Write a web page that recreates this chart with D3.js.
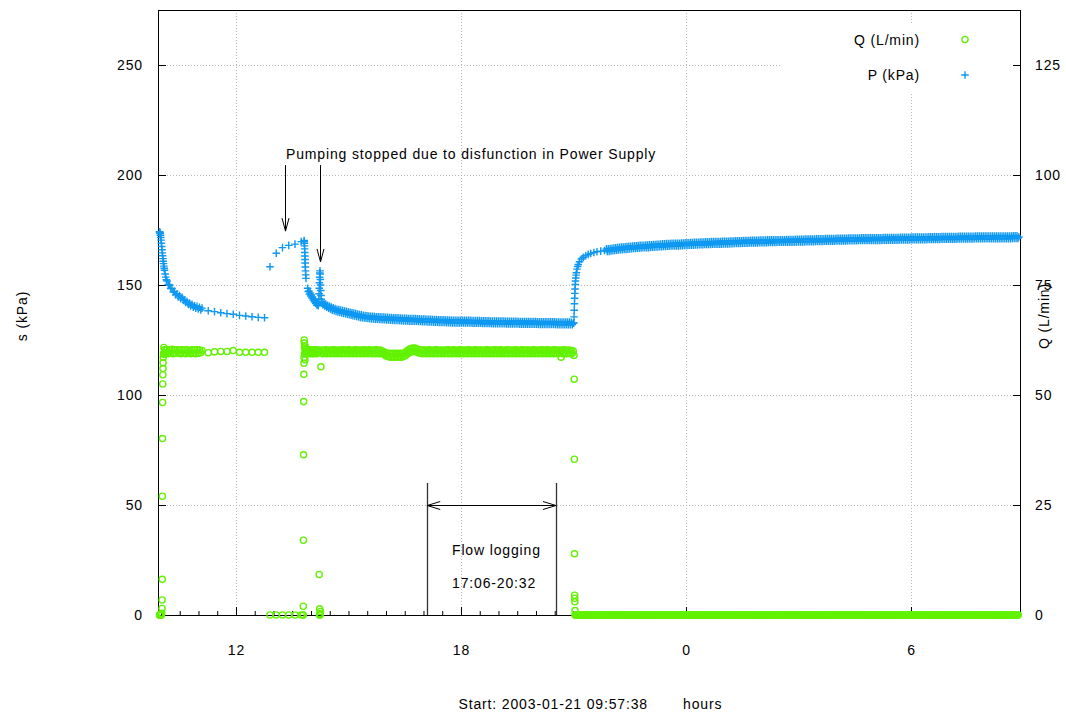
<!DOCTYPE html>
<html>
<head>
<meta charset="utf-8">
<script src="https://cdn.jsdelivr.net/npm/d3@7"></script>
<style>
  body { margin: 0; background: #fff; }
  text { font-family: "Liberation Sans", Arial, Helvetica, sans-serif; font-size: 14px; letter-spacing: 0.85px; fill: #000; }
</style>
</head>
<body>
<svg id="chart" width="1066" height="717"></svg>
<script>
// ---- Test record: pressure P (kPa) and flow Q (L/min), time in minutes since start ----
const startText = "Start: 2003-01-21 09:57:38";
const startClock = 9 + 57 / 60 + 38 / 3600;   // clock hours of the first record

// x axis: clock hours (values above 24 are the next day)
const xMajorHours = [12, 18, 24, 30];
const xMajorLabels = ["12", "18", "0", "6"];
const leftTicks = [0, 50, 100, 150, 200, 250];
const rightTicks = [0, 25, 50, 75, 100, 125];

// P, pump start (irregular logging)
const pEarlyMin = [0,0.3,0.6,1,1.5,2,2.5,3,3.5,4,4.5,5,5.5,6,6.5,7,7.5,8,9,10,11];
const pEarly = [174.2,173.8,174.0,173.4,172.6,171.6,170.4,169.0,167.5,166.0,164.6,163.3,162.0,160.8,159.7,158.6,157.6,156.7,155.0,153.6,152.4];
// P, pumping, every 2 min from minute 12
const pPump = [151.8,150.2,150.0,148.4,148.4,146.8,147.1,145.5,146.0,144.6,145.2,143.8,144.4,143.0,143.2,142.1,142.5,141.2,141.8,140.5,141.2,139.9,140.6,139.5,140.3,139.1,139.9,138.7,139.5];
// P, every 10 min from minute 78
const pSparse = [138.3,137.9,137.4,137.0,136.7,136.2,135.9,135.6,135.3,135.1];
// P, pump stopped, every 10 min from minute 176.8
const pRecover = [158.3,164.4,167.0,168.0,168.6,169.7];
// P, restart and second short stop (irregular)
const pRestartMin = [231.4,231.6,231.8,232.0,232.2,232.4,232.6,232.8,233.0,233.3,233.6,234.0,234.4,
  237,238,239,240,241,242,243,244,245,246,247,248,249,250,251,252,253,
  254,254.5,255,255.3,255.6,255.9,256.2,256.5,256.8,257.1,257.4,257.7,258,258.4,258.8,259.3];
const pRestart = [170.2,169.8,169.0,167.8,166.4,164.8,163.2,161.6,160.0,158.2,156.4,154.6,153.0,
  148.5,147.0,147.3,145.9,146.4,145.0,145.5,144.1,144.6,143.2,143.7,142.4,142.9,141.6,142.1,140.8,141.3,
  140.6,141.5,143.5,146.0,148.5,151.0,153.5,155.5,156.4,155.0,152.5,150.0,147.5,145.2,143.5,142.2];
// P, pumping, every 1.5 min from minute 260
const pMid = [
  142.4,140.9,141.8,140.4,141.3,139.9,140.8,139.4,140.4,139.0,
  140.0,138.6,139.6,138.3,139.3,138.0,139.0,137.7,138.8,137.5,
  138.6,137.3,138.4,137.1,138.2,136.9,138.0,136.7,137.8,136.5,
  137.6,136.3,137.4,136.1,137.2,135.9,137.0,135.7,136.8,135.5,
  136.6,135.3,136.4,135.1,136.2,135.0,136.1,134.9,136.0,134.8,
  135.9,134.7,135.8,134.6,135.8,134.6,135.7,134.5,135.6,134.4,
  135.5,134.3,135.5,134.3,135.4,134.2,135.4,134.2,135.3,134.1,
  135.3,134.1,135.2,134.0,135.2,134.0,135.1,133.9,135.1,133.9,
  135.1,133.9,135.0,133.8,135.0,133.8,134.9,133.7,134.9,133.7,
  134.9,133.7,134.8,133.6,134.8,133.6,134.7,133.5,134.7,133.5,
  134.7,133.5,134.6,133.4,134.6,133.4,134.5,133.3,134.5,133.3,
  134.5,133.3,134.4,133.2,134.4,133.2,134.4,133.2,134.3,133.1,
  134.3,133.1,134.3,133.1,134.2,133.0,134.2,133.0,134.2,133.0,
  134.2,133.0,134.1,132.9,134.1,132.9,134.1,132.9,134.0,132.8,
  134.0,132.8,134.0,132.8,134.0,132.8,134.0,132.8,133.9,132.7,
  133.9,132.7,133.9,132.7,133.9,132.7,133.9,132.7,133.9,132.7,
  133.8,132.6,133.8,132.6,133.8,132.6,133.8,132.6,133.8,132.6,
  133.7,132.5,133.7,132.5,133.7,132.5,133.7,132.5,133.7,132.5,
  133.6,132.4,133.6,132.4,133.6,132.4,133.6,132.4,133.6,132.4,
  133.6,132.4,133.6,132.4,133.6,132.4,133.5,132.3,133.5,132.3,
  133.5,132.3,133.5,132.3,133.5,132.3,133.5,132.3,133.5,132.3,
  133.4,132.2,133.4,132.2,133.4,132.2,133.4,132.2,133.4,132.2,
  133.4,132.2,133.4,132.2,133.4,132.2,133.4,132.2,133.4,132.2,
  133.3,132.1,133.3,132.1,133.3,132.1,133.3,132.1,133.3,132.1,
  133.3,132.1,133.3,132.1,133.3,132.1,133.3,132.1,133.3,132.1,
  133.2,132.0,133.2,132.0,133.2,132.0,133.2,132.0,133.2,132.0,
  133.2,132.0,133.2,132.0,133.2,132.0,133.1,132.0,132.6];
// P, pump stopped for good (irregular)
const pStopMin = [663.0,663.3,663.6,663.9,664.2,664.5,664.8,665.2,665.6,666.0,666.5,667.0,668,669,670,672,675,678,682,686,690,695,700,706,712];
const pStop = [132.8,135.5,138.5,141.5,144.0,146.2,148.2,150.2,151.8,153.2,154.5,155.6,157.2,158.4,159.3,160.6,161.8,162.6,163.3,163.9,164.3,164.8,165.1,165.4,165.7];
// P, recovery, every 1.5 min from minute 715
const pLate = [
  166.4,165.2,166.5,165.3,166.6,165.5,166.7,165.6,166.8,165.7,
  166.9,165.8,167.0,165.9,167.1,166.0,167.2,166.1,167.3,166.2,
  167.4,166.2,167.5,166.3,167.6,166.4,167.6,166.5,167.7,166.6,
  167.8,166.6,167.8,166.7,167.9,166.7,168.0,166.8,168.0,166.9,
  168.1,166.9,168.2,167.0,168.2,167.0,168.3,167.1,168.3,167.2,
  168.4,167.2,168.4,167.3,168.5,167.3,168.5,167.4,168.6,167.4,
  168.7,167.5,168.7,167.5,168.8,167.6,168.8,167.6,168.8,167.7,
  168.9,167.7,168.9,167.7,169.0,167.8,169.0,167.8,169.0,167.9,
  169.1,167.9,169.1,168.0,169.2,168.0,169.2,168.0,169.2,168.1,
  169.3,168.1,169.3,168.1,169.4,168.2,169.4,168.2,169.4,168.3,
  169.5,168.3,169.5,168.3,169.5,168.4,169.6,168.4,169.6,168.4,
  169.6,168.4,169.7,168.5,169.7,168.5,169.7,168.5,169.8,168.6,
  169.8,168.6,169.8,168.6,169.9,168.7,169.9,168.7,169.9,168.7,
  169.9,168.7,170.0,168.8,170.0,168.8,170.0,168.9,170.1,168.9,
  170.1,168.9,170.1,168.9,170.1,169.0,170.2,169.0,170.2,169.0,
  170.2,169.0,170.2,169.1,170.3,169.1,170.3,169.1,170.3,169.1,
  170.3,169.1,170.3,169.2,170.4,169.2,170.4,169.2,170.4,169.2,
  170.4,169.2,170.5,169.3,170.5,169.3,170.5,169.3,170.5,169.3,
  170.5,169.3,170.6,169.4,170.6,169.4,170.6,169.4,170.6,169.4,
  170.6,169.4,170.7,169.5,170.7,169.5,170.7,169.5,170.7,169.5,
  170.7,169.5,170.8,169.6,170.8,169.6,170.8,169.6,170.8,169.6,
  170.8,169.6,170.9,169.7,170.9,169.7,170.9,169.7,170.9,169.7,
  170.9,169.7,170.9,169.8,171.0,169.8,171.0,169.8,171.0,169.8,
  171.0,169.8,171.0,169.9,171.1,169.9,171.1,169.9,171.1,169.9,
  171.1,169.9,171.1,169.9,171.1,170.0,171.2,170.0,171.2,170.0,
  171.2,170.0,171.2,170.0,171.2,170.0,171.2,170.1,171.3,170.1,
  171.3,170.1,171.3,170.1,171.3,170.1,171.3,170.1,171.3,170.2,
  171.3,170.2,171.4,170.2,171.4,170.2,171.4,170.2,171.4,170.2,
  171.4,170.2,171.4,170.3,171.5,170.3,171.5,170.3,171.5,170.3,
  171.5,170.3,171.5,170.3,171.5,170.4,171.6,170.4,171.6,170.4,
  171.6,170.4,171.6,170.4,171.6,170.4,171.6,170.4,171.6,170.4,
  171.6,170.4,171.6,170.5,171.7,170.5,171.7,170.5,171.7,170.5,
  171.7,170.5,171.7,170.5,171.7,170.6,171.8,170.6,171.8,170.6,
  171.8,170.6,171.8,170.6,171.8,170.6,171.8,170.6,171.8,170.6,
  171.8,170.6,171.8,170.7,171.9,170.7,171.9,170.7,171.9,170.7,
  171.9,170.7,171.9,170.7,171.9,170.7,171.9,170.8,172.0,170.8,
  172.0,170.8,172.0,170.8,172.0,170.8,172.0,170.8,172.0,170.8,
  172.0,170.8,172.0,170.8,172.0,170.9,172.1,170.9,172.1,170.9,
  172.1,170.9,172.1,170.9,172.1,170.9,172.1,170.9,172.1,170.9,
  172.1,170.9,172.1,171.0,172.2,171.0,172.2,171.0,172.2,171.0,
  172.2,171.0,172.2,171.0,172.2,171.0,172.2,171.0,172.2,171.0,
  172.2,171.0,172.2,171.1,172.3,171.1,172.3,171.1,172.3,171.1,
  172.3,171.1,172.3,171.1,172.3,171.1,172.3,171.1,172.3,171.1,
  172.3,171.1,172.3,171.2,172.4,171.2,172.4,171.2,172.4,171.2,
  171.8];

// Q, pump start (irregular logging)
const qEarlyMin = [0,0.3,0.6,1,1.5,2,2.5,3,3.5,4,4.2,4.4,4.6,4.8,5,5.2,5.4,5.6,5.8,6,6.5,7,7.5,8,9,10,11];
const qEarly = [0,0,0,0,0,0,0,0,0.4,1.5,3.4,8.1,27.0,40.1,48.3,52.5,54.6,56.0,57.3,58.6,59.4,60.8,59.2,60.3,59.5,60.2,59.6];
// Q, every 2 min from minute 12
const qPump = [60.3,59.4,60.2,59.5,60.4,59.4,60.2,59.5,60.3,59.6,60.2,59.4,60.3,59.5,60.2,59.4,60.3,59.6,60.1,59.4,60.3,59.5,60.2,59.4,60.3,59.5,60.2,59.6,60.1];
// Q, every 10 min from minute 78
const qSparse = [59.6,59.8,59.9,59.9,60.1,59.7,59.7,59.7,59.7,59.7];
// Q, pump stopped, every 10 min from minute 176.8
const qRecover = [0,0,0,0,0,0];
// Q, restart and second short stop (irregular)
const qRestartMin = [229.6,229.9,230.1,230.3,230.5,230.7,230.9,231.1,231.3,231.5,231.7,231.9,232.1,232.4,232.7,233.0,233.5,
  234,235,236,237,238,239,240,241,242,243,244,245,246,247,248,249,250,251,252,253,254,
  255.5,256.0,256.3,256.6,257.0,257.5,258.3,259.2];
const qRestart = [0,0,2.0,17.0,36.4,48.5,54.7,57.2,58.5,62.5,61.8,60.9,59.4,60.6,58.0,61.2,59.9,
  60.3,59.4,60.2,59.5,60.3,59.4,60.2,59.6,60.3,59.4,60.2,59.5,60.3,59.4,60.2,59.5,60.3,59.4,60.1,59.5,60.2,
  9.2,0,1.4,0.3,0,0.8,56.4,59.6];
// Q, every 1.5 min from minute 260
const qMid = [
  60.2,59.4,60.1,59.5,60.3,59.4,60.1,59.6,60.2,59.4,
  60.1,59.5,60.3,59.4,60.2,59.5,60.1,59.4,60.2,59.6,
  60.1,59.4,60.3,59.5,60.2,59.4,60.1,59.5,60.3,59.4,
  60.2,59.5,60.1,59.4,60.2,59.6,60.3,59.4,60.1,59.5,
  60.2,59.4,60.1,59.5,60.3,59.4,60.2,59.5,60.1,59.4,
  60.3,59.5,60.2,59.4,60.1,59.5,60.2,59.4,60.3,59.5,
  60.1,59.4,60.2,59.5,60.0,59.3,59.8,59.1,59.6,58.8,
  59.4,58.7,59.5,58.6,59.4,58.7,59.5,58.6,59.4,58.7,
  59.5,58.6,59.4,58.7,59.5,58.6,59.4,58.8,59.6,58.9,
  59.9,59.3,60.2,59.6,60.5,59.8,60.6,59.9,60.7,59.9,
  60.6,59.8,60.4,59.6,60.3,59.5,60.2,59.4,60.2,59.5,
  60.2,59.4,60.1,59.5,60.3,59.4,60.2,59.5,60.1,59.4,
  60.2,59.5,60.3,59.4,60.1,59.5,60.2,59.4,60.1,59.6,
  60.2,59.4,60.1,59.5,60.3,59.4,60.2,59.5,60.1,59.4,
  60.3,59.5,60.2,59.4,60.1,59.5,60.2,59.4,60.3,59.5,
  60.1,59.4,60.2,59.5,60.1,59.4,60.3,59.5,60.2,59.4,
  60.1,59.5,60.2,59.4,60.3,59.5,60.1,59.4,60.2,59.5,
  60.2,59.4,60.1,59.5,60.2,59.4,60.3,59.5,60.1,59.4,
  60.2,59.5,60.1,59.4,60.3,59.5,60.2,59.4,60.1,59.5,
  60.3,59.4,60.2,59.5,60.1,59.4,60.2,59.5,60.3,59.4,
  60.1,59.5,60.2,59.4,60.1,59.5,60.3,59.4,60.2,59.5,
  60.1,59.4,60.2,59.5,60.3,59.4,60.1,59.5,60.2,59.4,
  60.2,59.5,60.1,59.4,60.2,59.5,60.3,59.4,60.1,59.5,
  60.2,59.4,60.1,59.5,60.3,59.4,60.2,59.5,60.1,59.4,
  60.3,59.5,60.2,59.4,60.1,59.5,60.2,59.4,60.3,59.5,
  60.1,59.4,60.2,59.5,60.1,58.6,60.2,59.4,60.3,59.5,
  60.2,59.4,60.1,59.5,60.2,59.4,60.1,59.5,60.0];
// Q, pump stopped for good (irregular)
const qStopMin = [663.2,663.5,663.8,664.0,664.2,664.4,664.6,664.8,665.0,665.5];
const qStop = [59.0,53.6,35.4,13.9,4.5,3.8,3.0,1.0,0,0];
// Q, every 1.5 min from minute 666
const qLate = [
  0,0,0,0,0,0,0,0,0,0,0,0,0,0,0,0,0,0,0,0, 0,0,0,0,0,0,0,0,0,0,0,0,0,0,0,0,0,0,0,0,
  0,0,0,0,0,0,0,0,0,0,0,0,0,0,0,0,0,0,0,0, 0,0,0,0,0,0,0,0,0,0,0,0,0,0,0,0,0,0,0,0,
  0,0,0,0,0,0,0,0,0,0,0,0,0,0,0,0,0,0,0,0, 0,0,0,0,0,0,0,0,0,0,0,0,0,0,0,0,0,0,0,0,
  0,0,0,0,0,0,0,0,0,0,0,0,0,0,0,0,0,0,0,0, 0,0,0,0,0,0,0,0,0,0,0,0,0,0,0,0,0,0,0,0,
  0,0,0,0,0,0,0,0,0,0,0,0,0,0,0,0,0,0,0,0, 0,0,0,0,0,0,0,0,0,0,0,0,0,0,0,0,0,0,0,0,
  0,0,0,0,0,0,0,0,0,0,0,0,0,0,0,0,0,0,0,0, 0,0,0,0,0,0,0,0,0,0,0,0,0,0,0,0,0,0,0,0,
  0,0,0,0,0,0,0,0,0,0,0,0,0,0,0,0,0,0,0,0, 0,0,0,0,0,0,0,0,0,0,0,0,0,0,0,0,0,0,0,0,
  0,0,0,0,0,0,0,0,0,0,0,0,0,0,0,0,0,0,0,0, 0,0,0,0,0,0,0,0,0,0,0,0,0,0,0,0,0,0,0,0,
  0,0,0,0,0,0,0,0,0,0,0,0,0,0,0,0,0,0,0,0, 0,0,0,0,0,0,0,0,0,0,0,0,0,0,0,0,0,0,0,0,
  0,0,0,0,0,0,0,0,0,0,0,0,0,0,0,0,0,0,0,0, 0,0,0,0,0,0,0,0,0,0,0,0,0,0,0,0,0,0,0,0,
  0,0,0,0,0,0,0,0,0,0,0,0,0,0,0,0,0,0,0,0, 0,0,0,0,0,0,0,0,0,0,0,0,0,0,0,0,0,0,0,0,
  0,0,0,0,0,0,0,0,0,0,0,0,0,0,0,0,0,0,0,0, 0,0,0,0,0,0,0,0,0,0,0,0,0];

// Annotations
const stopNote = "Pumping stopped due to disfunction in Power Supply";
const stopArrowMin = [200.8, 256.8];   // where the arrows point
const stopArrowTip = [174.5, 160.5];   // kPa
const loggingFrom = "17:06", loggingTo = "20:32";
const loggingTitle = "Flow logging";
const xTitle = "hours";
const seriesNames = ["Q (L/min)", "P (kPa)"];

// ---- helpers ----
const clockToMin = h => (h - startClock) * 60;
const hhmm = s => { const [h, m] = s.split(":").map(Number); return h + m / 60; };
const regular = (start, step, values) => values.map((v, i) => ({ t: start + i * step, v }));
const paired = (times, values) => values.map((v, i) => ({ t: times[i], v }));

const pData = [].concat(
  paired(pEarlyMin, pEarly), regular(12, 2, pPump), regular(78, 10, pSparse),
  regular(176.8, 10, pRecover), paired(pRestartMin, pRestart), regular(260, 1.5, pMid),
  paired(pStopMin, pStop), regular(715, 1.5, pLate));
const qData = [].concat(
  paired(qEarlyMin, qEarly), regular(12, 2, qPump), regular(78, 10, qSparse),
  regular(176.8, 10, qRecover), paired(qRestartMin, qRestart), regular(260, 1.5, qMid),
  paired(qStopMin, qStop), regular(666, 1.5, qLate));

// ---- layout ----
const frame = { left: 158, right: 1020, top: 10, bottom: 615 };
const blue = "#0e98f2", green = "#62f200";

const svg = d3.select("#chart");
const x = d3.scaleLinear().domain([-2.4, 1376.8]).range([frame.left, frame.right]);
const yL = d3.scaleLinear().domain([0, 275]).range([frame.bottom, frame.top]);
const yR = d3.scaleLinear().domain([0, 137.5]).range([frame.bottom, frame.top]);

// grid
const grid = svg.append("g").attr("stroke", "#b8b8b8").attr("stroke-dasharray", "1,2").attr("stroke-width", 1);
grid.selectAll("line.v").data(xMajorHours).join("line")
  .attr("x1", d => Math.round(x(clockToMin(d))) + 0.5).attr("x2", d => Math.round(x(clockToMin(d))) + 0.5)
  .attr("y1", frame.top).attr("y2", frame.bottom);
grid.selectAll("line.h").data(leftTicks.filter(d => d > 0)).join("line")
  .attr("x1", frame.left).attr("x2", frame.right)
  .attr("y1", d => Math.round(yL(d)) + 0.5).attr("y2", d => Math.round(yL(d)) + 0.5);

// key area background
svg.append("rect").attr("x", 780).attr("y", 23).attr("width", 232).attr("height", 70).attr("fill", "#fff");

// axes (ticks point inward)
const minorHours = d3.range(10, 33, 0.5).filter(h => !xMajorHours.includes(h));
svg.append("g").attr("transform", `translate(0,${frame.bottom})`)
  .call(d3.axisBottom(x).tickValues(minorHours.map(clockToMin)).tickSize(-4).tickFormat(""))
  .call(g => g.select(".domain").remove());
svg.append("g").attr("transform", `translate(0,${frame.bottom})`)
  .call(d3.axisBottom(x).tickValues(xMajorHours.map(clockToMin)).tickSize(-8).tickPadding(30)
    .tickFormat((d, i) => xMajorLabels[i]))
  .call(g => g.select(".domain").remove());
svg.append("g").attr("transform", `translate(${frame.left},0)`)
  .call(d3.axisLeft(yL).tickValues(leftTicks).tickSize(-8).tickPadding(15))
  .call(g => g.select(".domain").remove());
svg.append("g").attr("transform", `translate(${frame.right},0)`)
  .call(d3.axisRight(yR).tickValues(rightTicks).tickSize(-7).tickPadding(15))
  .call(g => g.select(".domain").remove());
svg.selectAll(".tick text").attr("font-size", 14).attr("font-family", "Liberation Sans, Arial, sans-serif")
  .attr("letter-spacing", "0.85px").attr("fill", "#000");
svg.selectAll(".tick line").attr("stroke", "#000");

// frame
svg.append("rect")
  .attr("x", frame.left + 0.5).attr("y", frame.top + 0.5)
  .attr("width", frame.right - frame.left).attr("height", frame.bottom - frame.top)
  .attr("fill", "none").attr("stroke", "#000").attr("stroke-width", 1);

// axis titles
svg.append("text").attr("transform", "translate(22,316) rotate(-90)")
  .attr("text-anchor", "middle").attr("dominant-baseline", "central").text("s (kPa)");
svg.append("text").attr("transform", "translate(1044,316) rotate(-90)")
  .attr("text-anchor", "middle").attr("dominant-baseline", "central").text(seriesNames[0]);
svg.append("text").attr("x", 648).attr("y", 709).attr("text-anchor", "end").text(startText);
svg.append("text").attr("x", 683).attr("y", 709).text(xTitle);

// marker shapes
const plusPath = "M-3.8,0H3.8M0,-3.8V3.8";
const plusWidth = 1.4, ringR = 3.1, ringWidth = 1.35;

// Q points (rings, right axis)
svg.append("g").selectAll("circle").data(qData).join("circle")
  .attr("cx", d => x(d.t)).attr("cy", d => yR(d.v)).attr("r", ringR)
  .attr("fill", "none").attr("stroke", green).attr("stroke-width", ringWidth);

// P points (plus marks, left axis)
svg.append("g").selectAll("path").data(pData).join("path")
  .attr("transform", d => `translate(${x(d.t)},${yL(d.v)})`)
  .attr("d", plusPath).attr("fill", "none").attr("stroke", blue).attr("stroke-width", plusWidth);

// key
svg.append("text").attr("x", 920).attr("y", 45).attr("text-anchor", "end").text(seriesNames[0]);
svg.append("text").attr("x", 920).attr("y", 80).attr("text-anchor", "end").text(seriesNames[1]);
svg.append("circle").attr("cx", 965).attr("cy", 39.5).attr("r", ringR)
  .attr("fill", "none").attr("stroke", green).attr("stroke-width", ringWidth);
svg.append("path").attr("transform", "translate(965,75)").attr("d", plusPath)
  .attr("fill", "none").attr("stroke", blue).attr("stroke-width", plusWidth);

// power supply note with arrows
const noteLevel = 207.5, arrowTail = 204.5;
svg.append("text").attr("x", x(202.4)).attr("y", yL(noteLevel)).text(stopNote);
const arrows = svg.append("g").attr("stroke", "#000").attr("stroke-width", 1).attr("fill", "none");
stopArrowMin.forEach((m, i) => {
  const ax = Math.round(x(m)) + 0.5, y0 = yL(arrowTail), y1 = yL(stopArrowTip[i]);
  arrows.append("line").attr("x1", ax).attr("x2", ax).attr("y1", y0).attr("y2", y1);
  arrows.append("path").attr("d", `M${ax - 3.5},${y1 - 13}L${ax},${y1}L${ax + 3.5},${y1 - 13}`);
});

// flow logging interval
const logA = clockToMin(hhmm(loggingFrom)), logB = clockToMin(hhmm(loggingTo));
const logTop = 60, logArrow = 50;
const lg = svg.append("g").attr("fill", "none");
[logA, logB].forEach(m => {
  const lx = Math.round(x(m)) + 0.5;
  lg.append("line").attr("x1", lx).attr("x2", lx).attr("y1", yL(logTop)).attr("y2", frame.bottom)
    .attr("stroke", "#333").attr("stroke-width", 1.3);
});
const ya = Math.round(yL(logArrow)) + 0.5, xa = x(logA), xb = x(logB);
lg.append("line").attr("x1", xa).attr("x2", xb).attr("y1", ya).attr("y2", ya).attr("stroke", "#000");
lg.append("path").attr("d", `M${xa + 13},${ya - 4}L${xa},${ya}L${xa + 13},${ya + 4}`).attr("stroke", "#000");
lg.append("path").attr("d", `M${xb - 13},${ya - 4}L${xb},${ya}L${xb - 13},${ya + 4}`).attr("stroke", "#000");
svg.append("text").attr("x", x(468)).attr("y", yL(27.3)).text(loggingTitle);
svg.append("text").attr("x", x(468)).attr("y", yL(12.1)).text(`${loggingFrom}-${loggingTo}`);
</script>
</body>
</html>
